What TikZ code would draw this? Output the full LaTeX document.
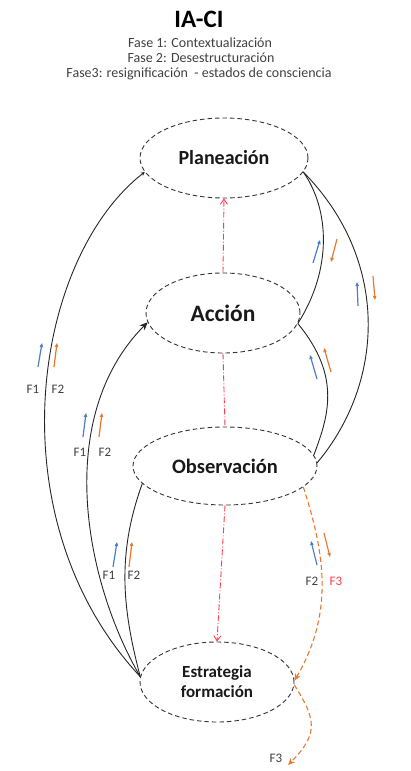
\documentclass[tikz,border=0pt]{standalone}
\usepackage{fontspec}
\setmainfont{Carlito}
\usetikzlibrary{shapes.geometric,arrows.meta}
\definecolor{fblue}{HTML}{4A7EC8}
\definecolor{forange}{HTML}{E8782E}
\definecolor{fred}{HTML}{FF3B4E}
\definecolor{ftext}{HTML}{404040}
\begin{document}
\begin{tikzpicture}[x=1pt,y=-1pt,
  stage/.style={ellipse, draw=black!80, dash pattern=on 4.5pt off 3pt, line width=0.9pt, inner sep=0pt, align=center, text=black!90},
  smallstage/.style={font=\bfseries\fontsize{17}{20}\selectfont},
  link/.style={draw=black!85, line width=0.9pt},
  redlink/.style={draw=fred, line width=0.9pt, dash pattern=on 6pt off 2pt on 1pt off 2pt},
  orangelink/.style={draw=forange, line width=1.1pt, dash pattern=on 5pt off 3pt},
  mini/.style={line width=1.2pt, -{Triangle[length=4pt,width=3.4pt]}},
  flabel/.style={text=ftext, font=\fontsize{13}{15}\selectfont, inner sep=0pt},
  sub/.style={text=ftext, font=\fontsize{14}{16}\selectfont, inner sep=0pt}
]
\useasboundingbox (0,0) rectangle (411,771);

% title
\node[font=\bfseries\fontsize{25}{28}\selectfont, inner sep=0pt] (title) at (199,19) {IA-CI};
\node[sub] (s1) at (200,43) {Fase 1: Contextualización};
\node[sub] (s2) at (201,58) {Fase 2: Desestructuración};
\node[sub] (s3) at (199,74) {Fase3: resignificación\ \ - estados de consciencia};

% stages
\node[stage, font=\bfseries\fontsize{20}{22}\selectfont, minimum width=168pt, minimum height=80pt] (plan) at (224,158) {Planeación};
\node[stage, font=\bfseries\fontsize{23.5}{26}\selectfont, minimum width=154pt, minimum height=80pt] (acc) at (223,313) {Acción};
\node[stage, font=\bfseries\fontsize{20.5}{22}\selectfont, minimum width=184pt, minimum height=78pt] (obs) at (225,466) {Observación};
\node[stage, smallstage, minimum width=154pt, minimum height=80pt] (est) at (217,682) {Estrategia\\formación};

% red dash-dot links
\draw[redlink, -{Straight Barb[length=5pt,width=7pt]}] (acc.north) -- (plan.south);
\draw[redlink] (acc.south) -- (obs.north);
\draw[redlink, -{Straight Barb[length=5pt,width=7pt]}] (obs.south) -- (est.north);

% black links left
\draw[link, -{Stealth[length=4pt,width=4pt]}] (est.176) .. controls (-6,520) and (32,260) .. (plan.190);
\draw[link, -{Stealth[length=8pt,width=7pt]}] (est.176) .. controls (85,582) and (53,418) .. (acc.187);
\draw[link] (est.176) .. controls (122,607) and (117,554) .. (obs.192);

% black links right
\draw[link] (plan.350) .. controls (330,210) and (332,270) .. (acc.352);
\draw[link] (plan.350) .. controls (390,260) and (385,382) .. (obs.2);
\draw[link] (acc.352) .. controls (342,377) and (328,417) .. (obs.7);

% orange dashed links
\draw[orangelink, -{Stealth[length=7pt,width=6pt]}] (obs.345) .. controls (325,554) and (334,613) .. (est.1);
\coordinate (f3end) at (288,765);
\draw[orangelink, -{Stealth[length=7pt,width=6pt]}] (est.-2) .. controls (314.5,717.5) and (320.5,732.5) .. (f3end);

% small phase arrows, left
\draw[mini, fblue] (38,367) -- (42,343);
\draw[mini, forange] (54,367) -- (57,343);
\node[flabel] (l1a) at (33,389) {F1};
\node[flabel] (l1b) at (58,389) {F2};

\draw[mini, fblue] (83,437) -- (86,413);
\draw[mini, forange] (99,437) -- (102,413);
\node[flabel] (l2a) at (80,452) {F1};
\node[flabel] (l2b) at (105,452) {F2};

\draw[mini, fblue] (113,567) -- (117,542);
\draw[mini, forange] (129,567) -- (132,542);
\node[flabel] (l3a) at (109,575) {F1};
\node[flabel] (l3b) at (134,575) {F2};

% small phase arrows, right
\draw[mini, fblue] (313,263) -- (320,240);
\draw[mini, forange] (337,239) -- (331,262);
\draw[mini, fblue] (358,306) -- (357,282);
\draw[mini, forange] (373,276) -- (375,300);
\draw[mini, fblue] (317,379) -- (310,355);
\draw[mini, forange] (331,372) -- (324,348);
\draw[mini, fblue] (317,565) -- (311,541);
\draw[mini, forange] (324,533) -- (330,557);
\node[flabel] (r1a) at (312,581) {F2};
\node[flabel, text=fred] (r1b) at (336,581) {F3};
\node[flabel] (f3lab) at (276,758) {F3};
\end{tikzpicture}
\end{document}
